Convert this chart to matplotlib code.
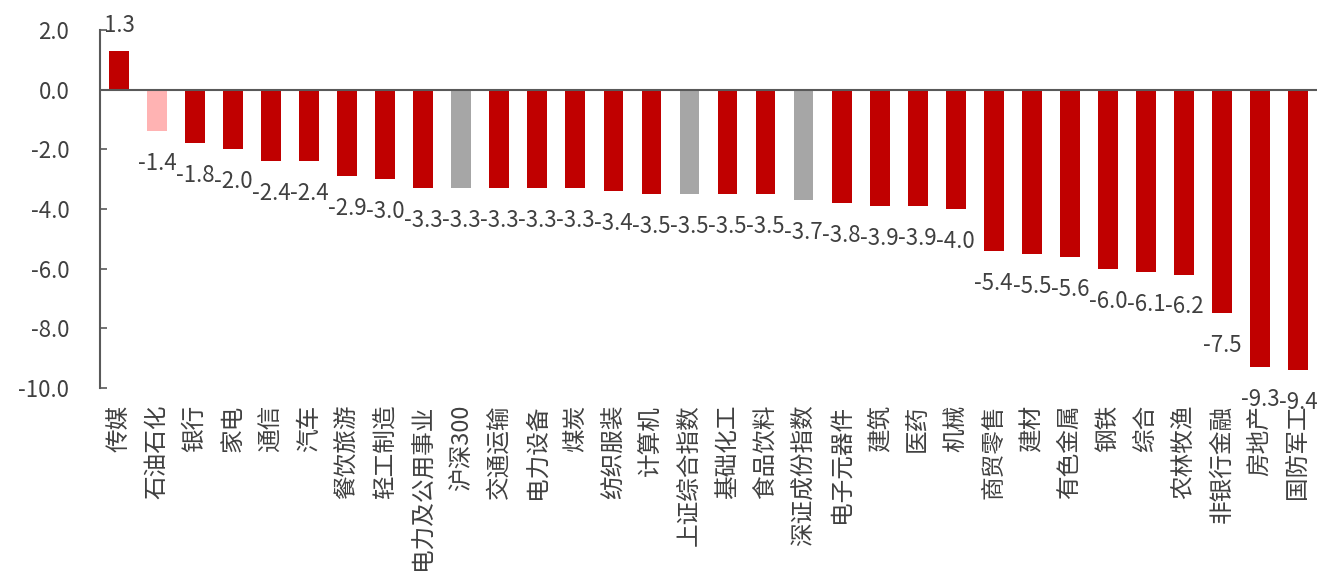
import matplotlib
matplotlib.use("Agg")
import matplotlib.pyplot as plt

plt.rcParams['font.family'] = ['Noto Sans CJK SC', 'DejaVu Sans']

names = ['传媒', '石油石化', '银行', '家电', '通信', '汽车', '餐饮旅游', '轻工制造',
         '电力及公用事业', '沪深300', '交通运输', '电力设备', '煤炭', '纺织服装', '计算机',
         '上证综合指数', '基础化工', '食品饮料', '深证成份指数', '电子元器件', '建筑', '医药',
         '机械', '商贸零售', '建材', '有色金属', '钢铁', '综合', '农林牧渔', '非银行金融',
         '房地产', '国防军工']
values = [1.3, -1.4, -1.8, -2.0, -2.4, -2.4, -2.9, -3.0,
          -3.3, -3.3, -3.3, -3.3, -3.3, -3.4, -3.5,
          -3.5, -3.5, -3.5, -3.7, -3.8, -3.9, -3.9,
          -4.0, -5.4, -5.5, -5.6, -6.0, -6.1, -6.2, -7.5,
          -9.3, -9.4]
index_names = ['沪深300', '上证综合指数', '深证成份指数']
light_names = ['石油石化']
yticks = [2, 0, -2, -4, -6, -8, -10]

red = '#C00000'
pink = '#FFB3B3'
grey = '#A6A6A6'
txt = '#404040'

colors = []
for n in names:
    if n in index_names:
        colors.append(grey)
    elif n in light_names:
        colors.append(pink)
    else:
        colors.append(red)

fig = plt.figure(figsize=(13.19, 5.74), dpi=100)
ax = fig.add_axes([0.0758, 0.324, 0.9227, 0.6237])

x = range(len(names))
ax.bar(x, values, width=0.52, color=colors, zorder=2)
ax.axhline(0, color='#595959', lw=1.5, zorder=3)

# value labels: above positive bars, below negative ones
for i, v in enumerate(values):
    if v >= 0:
        ax.annotate('%.1f' % v, (i, v), xytext=(0, 10), textcoords='offset points',
                    ha='center', va='bottom', fontsize=16, color=txt)
    else:
        ax.annotate('%.1f' % v, (i, v), xytext=(0, -15), textcoords='offset points',
                    ha='center', va='top', fontsize=16, color=txt)

ax.set_xlim(-0.5, len(names) - 0.5)
ax.set_ylim(-10, 2)
ax.set_yticks(yticks)
ax.set_yticklabels(['%.1f' % t for t in yticks], fontsize=16, color=txt)
ax.tick_params(axis='y', direction='in', length=5, width=1.2, color='#595959', pad=22)
ax.set_xticks(list(x))
ax.set_xticklabels(names, rotation=90, fontsize=17, color=txt, va='top')
ax.tick_params(axis='x', length=0, pad=12)

for s in ['top', 'right', 'bottom']:
    ax.spines[s].set_visible(False)
ax.spines['left'].set_color('#595959')
ax.spines['left'].set_linewidth(1.5)

fig.savefig('out.png', dpi=100)
